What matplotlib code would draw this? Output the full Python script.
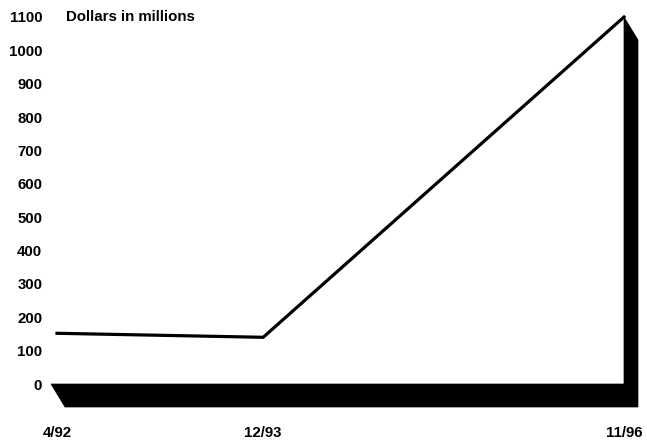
import matplotlib.pyplot as plt
from matplotlib.patches import Polygon

# months since 4/92
months = [0, 20, 55]
date_labels = ["4/92", "12/93", "11/96"]
dollars = [152, 140, 1100]
y_ticks = list(range(0, 1200, 100))

plt.rcParams["font.family"] = ["Liberation Sans", "DejaVu Sans"]
plt.rcParams["font.weight"] = "bold"
plt.rcParams["font.size"] = 10.8

fig = plt.figure(figsize=(6.47, 4.42), dpi=100)
W, H = 647, 442
ax = fig.add_axes([45 / W, 1 - 415 / H, 600 / W, 410 / H])

px_x = 567 / (months[-1] - months[0])      # pixels per month
px_y = 367 / 1100                           # pixels per dollar unit
ax.set_xlim(months[0] - 12 / px_x, months[-1] + 21 / px_x)
ax.set_ylim(-31 / px_y, 1100 + 12 / px_y)

# black floor and right wall, drawn with a fixed depth offset
dx, dy = 14 / px_x, 23 / px_y
x0 = months[0] - 6 / px_x
x1 = months[-1]
top = y_ticks[-1]
shape = [(x0, 0), (x1, 0), (x1, top), (x1 + dx, top - dy),
         (x1 + dx, -dy), (x0 + dx, -dy)]
ax.add_patch(Polygon(shape, closed=True, facecolor="black",
                     edgecolor="black", lw=0.5, zorder=1))

ax.plot(months, dollars, color="black", lw=2.3, zorder=2,
        solid_joinstyle="miter")

ax.set_yticks(y_ticks)
ax.set_yticklabels([str(v) for v in y_ticks])
ax.set_xticks(months)
ax.set_xticklabels(date_labels)
ax.tick_params(axis="y", length=0, pad=2)
ax.tick_params(axis="x", length=0, pad=8)
for s in ax.spines.values():
    s.set_visible(False)

fig.text(66 / W, 1 - 17 / H, "Dollars in millions", ha="left", va="center",
         fontweight="bold", fontsize=10.8)

fig.savefig("out.png", dpi=100)
